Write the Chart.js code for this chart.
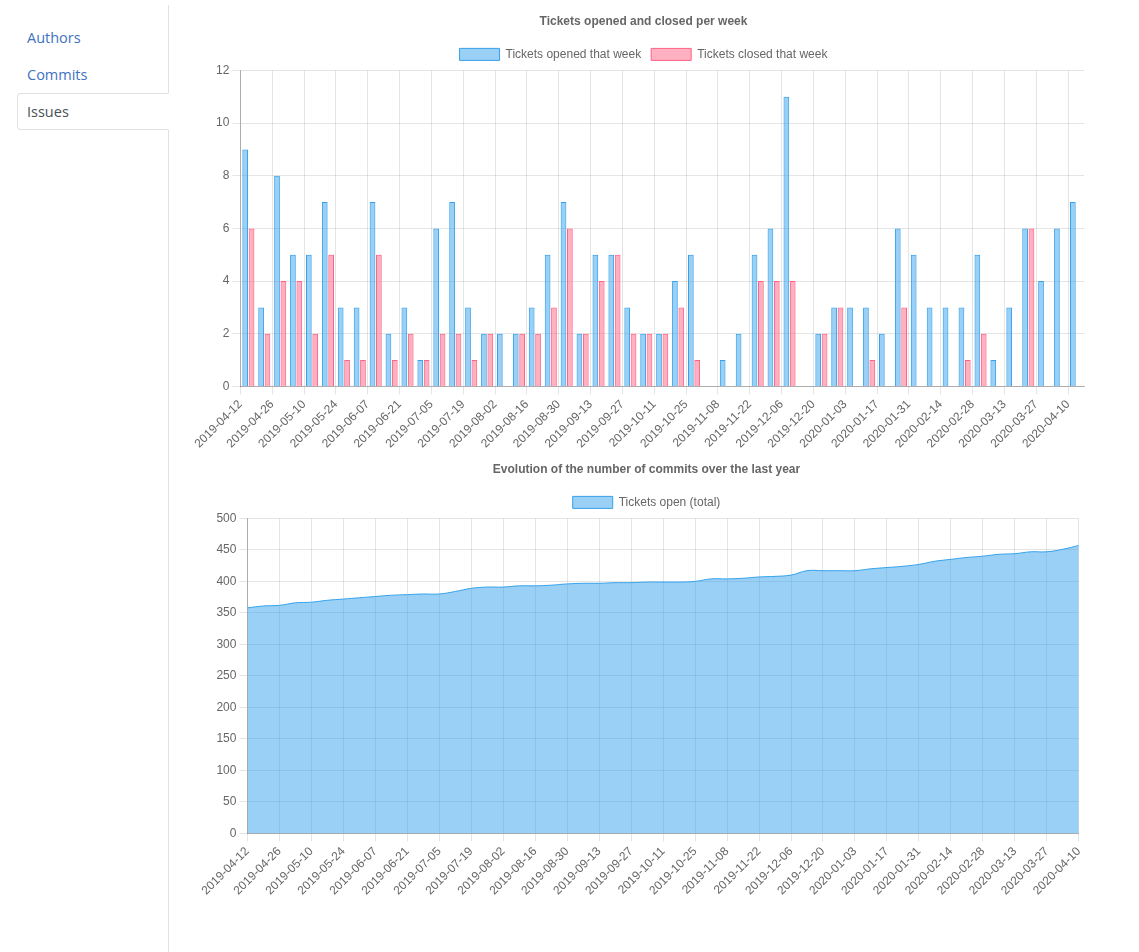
<!DOCTYPE html>
<html>
<head>
<meta charset="utf-8">
<title>Issues</title>
<script src="https://cdn.jsdelivr.net/npm/chart.js"></script>
<style>
  html, body { margin: 0; padding: 0; background: #fff; }
  body { width: 1139px; height: 952px; position: relative; overflow: hidden; font-family: "Open Sans", sans-serif; }
  .sidebar { position: absolute; left: 17px; top: 5px; width: 152px; bottom: 0; border-right: 1px solid #dee2e6; padding-top: 14px; box-sizing: border-box; }
  .sidebar a { display: block; height: 37px; line-height: 37px; padding-left: 10px; font-size: 14.5px; color: #3f72c1; text-decoration: none; box-sizing: border-box; }
  .sidebar a.active { color: #495057; background: #fff; border: 1px solid #dee2e6; border-right-color: #fff; margin-right: -1px; border-radius: 4px 0 0 4px; line-height: 35px; padding-left: 9px; }
  .chart { position: absolute; }
  #c1 { top: 4px; left: 194px; width: 898px; height: 450px; }
  #c2 { top: 452px; left: 201px; width: 891px; height: 449px; }
</style>
</head>
<body>
<div class="sidebar">
  <a href="#">Authors</a>
  <a href="#">Commits</a>
  <a href="#" class="active">Issues</a>
</div>
<div class="chart" id="c1"><canvas id="barChart"></canvas></div>
<div class="chart" id="c2"><canvas id="lineChart"></canvas></div>
<script>
var weeks = [
  "2019-04-12", "2019-04-19", "2019-04-26", "2019-05-03", "2019-05-10", "2019-05-17",
  "2019-05-24", "2019-05-31", "2019-06-07", "2019-06-14", "2019-06-21", "2019-06-28",
  "2019-07-05", "2019-07-12", "2019-07-19", "2019-07-26", "2019-08-02", "2019-08-09",
  "2019-08-16", "2019-08-23", "2019-08-30", "2019-09-06", "2019-09-13", "2019-09-20",
  "2019-09-27", "2019-10-04", "2019-10-11", "2019-10-18", "2019-10-25", "2019-11-01",
  "2019-11-08", "2019-11-15", "2019-11-22", "2019-11-29", "2019-12-06", "2019-12-13",
  "2019-12-20", "2019-12-27", "2020-01-03", "2020-01-10", "2020-01-17", "2020-01-24",
  "2020-01-31", "2020-02-07", "2020-02-14", "2020-02-21", "2020-02-28", "2020-03-06",
  "2020-03-13", "2020-03-20", "2020-03-27", "2020-04-03", "2020-04-10"
];

var ticketsOpened = [9, 3, 8, 5, 5, 7, 3, 3, 7, 2, 3, 1, 6, 7, 3, 2, 2, 2, 3, 5, 7, 2, 5, 5, 3, 2, 2,
  4, 5, 0, 1, 2, 5, 6, 11, 0, 2, 3, 3, 3, 2, 6, 5, 3, 3, 3, 5, 1, 3, 6, 4, 6, 7];

var ticketsClosed = [6, 2, 4, 4, 2, 5, 1, 1, 5, 1, 2, 1, 2, 2, 1, 2, 0, 2, 2, 3, 6, 2, 4, 5, 2, 2, 2,
  3, 1, 0, 0, 0, 4, 4, 4, 0, 2, 3, 0, 1, 0, 3, 0, 0, 0, 1, 2, 0, 0, 6, 0, 0, 0];

var openTotal = [358, 361, 362, 366, 367, 370, 372, 374, 376, 378, 379, 380, 380, 384, 389, 391,
  391, 393, 393, 394, 396, 397, 397, 398, 398, 399, 399, 399, 400, 404, 404, 405, 407, 408, 410,
  417, 417, 417, 417, 420, 422, 424, 427, 432, 435, 438, 440, 443, 444, 447, 447, 451, 457];

var barTicks = [0, 2, 4, 6, 8, 10, 12];
var lineTicks = [0, 50, 100, 150, 200, 250, 300, 350, 400, 450, 500];

var blue = "rgb(54, 162, 235)";
var blueFill = "rgba(54, 162, 235, 0.5)";
var red = "rgb(255, 99, 132)";
var redFill = "rgba(255, 99, 132, 0.5)";

Chart.defaults.font.family = "'Liberation Sans', Arial, sans-serif";
Chart.defaults.font.size = 12;
Chart.defaults.color = "#666";
Chart.defaults.animation = false;

function weekLabel(value) {
  return weeks[Math.round(value)];
}

function xAxis(max) {
  return {
    type: "linear",
    min: 0,
    max: max,
    offset: false,
    ticks: { stepSize: 2, includeBounds: false, autoSkip: false, minRotation: 45, maxRotation: 45, callback: weekLabel },
    grid: { color: "rgba(0,0,0,0.1)", offset: false },
    border: { color: "rgba(0,0,0,0.25)" }
  };
}

function yAxis(ticks) {
  return {
    min: ticks[0],
    max: ticks[ticks.length - 1],
    ticks: { stepSize: ticks[1] - ticks[0] },
    grid: { color: "rgba(0,0,0,0.1)" },
    border: { color: "rgba(0,0,0,0.25)" }
  };
}

new Chart(document.getElementById("barChart").getContext("2d"), {
  type: "bar",
  data: {
    datasets: [{
      label: "Tickets opened that week",
      data: ticketsOpened.map(function(v, i) { return { x: i + 0.5, y: v }; }),
      backgroundColor: blueFill,
      borderColor: blue,
      borderWidth: 1
    }, {
      label: "Tickets closed that week",
      data: ticketsClosed.map(function(v, i) { return { x: i + 0.5, y: v }; }),
      backgroundColor: redFill,
      borderColor: red,
      borderWidth: 1
    }]
  },
  options: {
    responsive: true,
    maintainAspectRatio: false,
    layout: { padding: { left: 9, right: 8 } },
    plugins: {
      title: { display: true, text: "Tickets opened and closed per week", font: { weight: "bold" } },
      tooltip: { enabled: false }
    },
    scales: { x: xAxis(53), y: yAxis(barTicks) }
  }
});

new Chart(document.getElementById("lineChart").getContext("2d"), {
  type: "line",
  data: {
    datasets: [{
      label: "Tickets open (total)",
      data: openTotal.map(function(v, i) { return { x: i, y: v }; }),
      backgroundColor: blueFill,
      borderColor: blue,
      borderWidth: 1,
      fill: "origin",
      tension: 0.4,
      pointRadius: 0
    }]
  },
  options: {
    responsive: true,
    maintainAspectRatio: false,
    plugins: {
      title: { display: true, text: "Evolution of the number of commits over the last year", font: { weight: "bold" } },
      tooltip: { enabled: false }
    },
    scales: { x: xAxis(52), y: yAxis(lineTicks) }
  }
});
</script>
</body>
</html>
